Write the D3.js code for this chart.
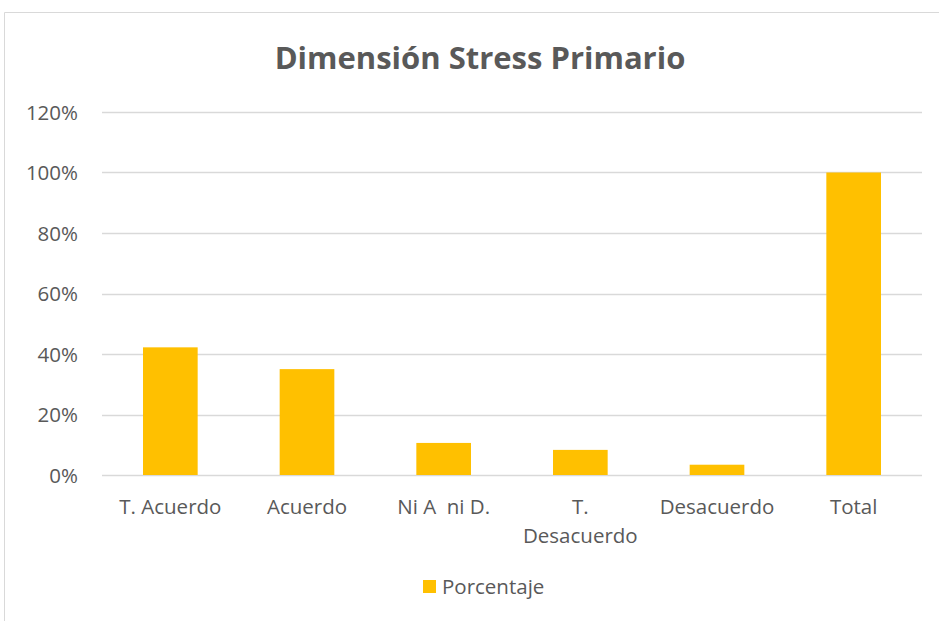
<!DOCTYPE html>
<html>
<head>
<meta charset="utf-8">
<script src="https://cdn.jsdelivr.net/npm/d3@7"></script>
<style>
  body { margin: 0; background: #fff; }
  text { font-family: "Open Sans", "Noto Sans", sans-serif; fill: #595959; }
</style>
</head>
<body>
<svg width="939" height="621"></svg>
<script>
var categories = ["T. Acuerdo", "Acuerdo", "Ni A  ni D.", "T. Desacuerdo", "Desacuerdo", "Total"];
var values = [0.422, 0.35, 0.106, 0.083, 0.034, 1.0];
var yTicks = [0, 0.2, 0.4, 0.6, 0.8, 1.0, 1.2];
var seriesName = "Porcentaje";

var svg = d3.select("svg"),
    margin = {top: 112, right: 17, bottom: 146, left: 102},
    width = 939 - margin.left - margin.right,
    height = 621 - margin.top - margin.bottom;

// chart frame
svg.append("path")
  .attr("d", "M4.5,621 L4.5,12.5 L939,12.5")
  .attr("fill", "none")
  .attr("stroke", "#d9d9d9");

svg.append("text")
  .attr("x", 480)
  .attr("y", 69)
  .attr("text-anchor", "middle")
  .style("font-size", "31px")
  .style("font-weight", "bold")
  .text("Dimensión Stress Primario");

var g = svg.append("g").attr("transform", "translate(" + margin.left + "," + margin.top + ")");

var x = d3.scaleBand().domain(categories).range([0, width]).paddingInner(0.6).paddingOuter(0.3);
var y = d3.scaleLinear().domain([0, 1.2]).range([height, 0]);

g.append("g")
  .selectAll("line")
  .data(yTicks)
  .enter().append("line")
    .attr("x1", 0)
    .attr("x2", width)
    .attr("y1", function(d) { return Math.round(y(d)) + 0.5; })
    .attr("y2", function(d) { return Math.round(y(d)) + 0.5; })
    .attr("stroke", "#d9d9d9")
    .attr("stroke-width", 1.5);

var yAxis = g.append("g")
  .call(d3.axisLeft(y).tickValues(yTicks).tickFormat(d3.format(".0%")).tickSize(0).tickPadding(24));
yAxis.select(".domain").remove();
yAxis.selectAll("text").style("font-size", "20.5px").style("fill", "#595959").attr("dy", "0.36em");

g.selectAll(".bar")
  .data(values)
  .enter().append("rect")
    .attr("class", "bar")
    .attr("x", function(d, i) { return x(categories[i]); })
    .attr("y", function(d) { return y(d); })
    .attr("width", x.bandwidth())
    .attr("height", function(d) { return height - y(d); })
    .attr("fill", "#ffc000");

// category labels, wrapping long ones
g.selectAll(".cat")
  .data(categories)
  .enter().append("text")
    .attr("class", "cat")
    .attr("text-anchor", "middle")
    .style("font-size", "20.5px")
    .each(function(d) {
      var lines = d === "T. Desacuerdo" ? ["T.", "Desacuerdo"] : [d];
      var t = d3.select(this);
      lines.forEach(function(l, k) {
        t.append("tspan")
          .attr("x", x(d) + x.bandwidth() / 2)
          .attr("y", height + 39 + k * 29)
          .style("white-space", "pre")
          .text(l);
      });
    });

// legend
var leg = svg.append("g").attr("transform", "translate(423,580)");
leg.append("rect").attr("width", 13).attr("height", 13).attr("fill", "#ffc000");
leg.append("text").attr("x", 19).attr("y", 14).style("font-size", "20.5px").text(seriesName);
</script>
</body>
</html>
